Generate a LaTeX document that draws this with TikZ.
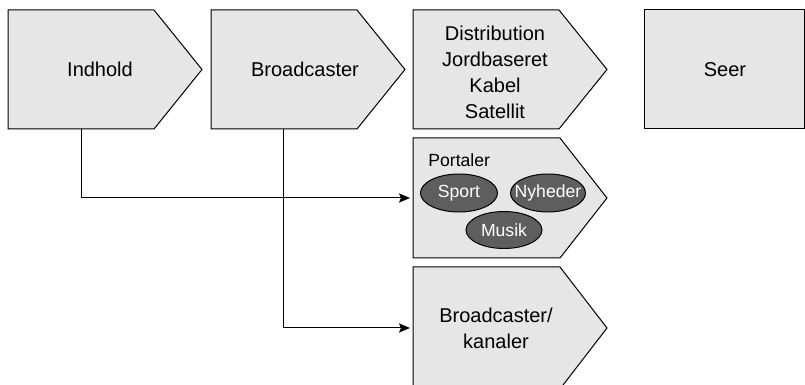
\documentclass[tikz,border=0pt]{standalone}
\usepackage{fontspec}
\setmainfont{Liberation Sans}
\usetikzlibrary{arrows.meta,shapes.geometric}
\definecolor{boxfill}{HTML}{E6E6E6}
\definecolor{ovalfill}{HTML}{5E5E5E}
\tikzset{
  chevron/.style={draw=black, fill=boxfill, line width=0.5pt, line join=miter},
  label/.style={font=\fontsize{10}{12.9}\selectfont, align=center, inner sep=0pt},
  small/.style={font=\fontsize{8.8}{10}\selectfont, inner sep=0pt},
  oval/.style={ellipse, draw=black, fill=ovalfill, line width=0.5pt, text=white,
    font=\fontsize{8.8}{10}\selectfont, inner sep=0pt},
  link/.style={draw=black, line width=0.5pt, -{Stealth[length=5.5pt,width=4.6pt,inset=1pt]}},
}
\begin{document}
\begin{tikzpicture}[x=0.5pt, y=-0.5pt]
\useasboundingbox (0,0) rectangle (805,385);
\clip (0,0) rectangle (805,385);

% value chain: chevrons along the top row
\draw[chevron] (8,10) -- (154,10) -- (202,69.5) -- (154,129) -- (8,129) -- cycle;
\draw[chevron] (211,10) -- (357,10) -- (405,69.5) -- (357,129) -- (211,129) -- cycle;
\draw[chevron] (413,10) -- (559,10) -- (607,69.5) -- (559,129) -- (413,129) -- cycle;
\draw[chevron] (644,10) rectangle (804,129);

% branches below the distribution step
\draw[chevron] (413,138) -- (560,138) -- (607,198) -- (560,258) -- (413,258) -- cycle;
\draw[chevron] (413,267) -- (560,267) -- (607,328) -- (560,389) -- (413,389) -- cycle;

% texts
\node[label] (ind) at (100,69.5) {Indhold};
\node[label] (brc) at (305,69.5) {Broadcaster};
\node[label] (dist) at (495,72.5) {Distribution\\Jordbaseret\\Kabel\\Satellit};
\node[label] (seer) at (725,69.5) {Seer};
\node[small, anchor=west] (port) at (428,160) {Portaler};
\node[oval, minimum width=38.5pt, minimum height=19pt] (sport) at (459,193) {\makebox[0pt]{Sport}};
\node[oval, minimum width=37.5pt, minimum height=19pt] (nyh) at (548,193) {\makebox[0pt]{Nyheder}};
\node[oval, minimum width=38pt, minimum height=18.5pt] (musik) at (504,230) {\makebox[0pt]{Musik}};
\node[label] (kan) at (496,328) {Broadcaster/\\kanaler};

% connector anchors
\coordinate (indfoot) at (81,129);
\coordinate (brcfoot) at (283,129);
\coordinate (portin) at (410,198);
\coordinate (kanin) at (410,328);

\draw[link] (indfoot) |- (portin);
\draw[link] (brcfoot) |- (kanin);
\end{tikzpicture}
\end{document}
